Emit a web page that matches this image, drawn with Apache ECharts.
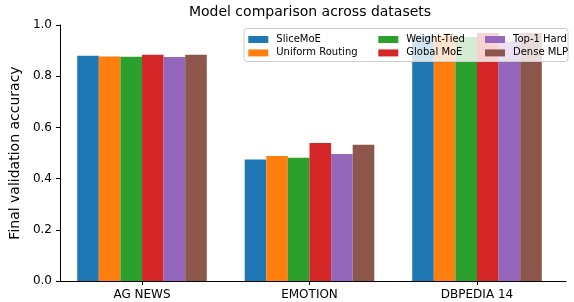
<!DOCTYPE html>
<html>
<head>
<meta charset="utf-8">
<script src="https://cdn.jsdelivr.net/npm/echarts@6/dist/echarts.min.js"></script>
<style>html,body{margin:0;padding:0;background:#fff}#c{width:574px;height:302px}</style>
</head>
<body>
<div id="c"></div>
<script>
var categories = ['AG NEWS', 'EMOTION', 'DBPEDIA 14'];
var seriesNames = ['SliceMoE', 'Uniform Routing', 'Weight-Tied', 'Global MoE', 'Top-1 Hard', 'Dense MLP'];
var sliceMoE = [0.880, 0.475, 0.958];
var uniformRouting = [0.877, 0.488, 0.958];
var weightTied = [0.876, 0.481, 0.953];
var globalMoE = [0.884, 0.539, 0.969];
var top1Hard = [0.875, 0.496, 0.935];
var denseMLP = [0.884, 0.532, 0.969];
var yTicks = [0.0, 0.2, 0.4, 0.6, 0.8, 1.0];

var values = [sliceMoE, uniformRouting, weightTied, globalMoE, top1Hard, denseMLP];
var colors = ['#1f77b4', '#ff7f0e', '#2ca02c', '#d62728', '#9467bd', '#8c564b'];
var FONT = 'DejaVu Sans';

var series = seriesNames.map(function (n, i) {
  return {
    name: n, type: 'bar', xAxisIndex: 1, yAxisIndex: 1,
    data: values[i], barWidth: 21.6, barGap: '0%',
    itemStyle: { color: colors[i] }, z: 2
  };
});

function legendAt(left, names) {
  return {
    orient: 'vertical', left: left, top: 33.5, padding: 0, itemWidth: 20, itemHeight: 7, itemGap: 1.4,
    icon: 'rect', data: names, z: 60, selectedMode: false,
    textStyle: { fontFamily: FONT, fontSize: 10, color: '#000', lineHeight: 12, padding: [0, 0, 0, 3] }
  };
}

var chart = echarts.init(document.getElementById('c'), null, { renderer: 'canvas' });
chart.setOption({
  animation: false,
  title: {
    text: 'Model comparison across datasets', left: 310, textAlign: 'center', top: 5.5, padding: 0,
    textStyle: { fontFamily: FONT, fontSize: 14, fontWeight: 'normal', color: '#000' }
  },
  grid: [
    { left: 54, right: 8, top: 25, bottom: 21 },
    { left: 58.25, right: 13.25, top: 25, bottom: 21 }
  ],
  xAxis: [
    { gridIndex: 0, type: 'value', min: 0, max: 1, axisLine: { show: true, lineStyle: { color: '#000', width: 1 } },
      axisTick: { show: false }, axisLabel: { show: false }, splitLine: { show: false } },
    { gridIndex: 1, type: 'category', data: categories, axisLine: { show: false },
      axisTick: { show: true, alignWithLabel: true, length: 4, lineStyle: { color: '#000' } },
      axisLabel: { fontFamily: FONT, fontSize: 12, color: '#000', margin: 8 } }
  ],
  yAxis: [
    { gridIndex: 0, type: 'value', min: 0, max: 1, interval: 0.2,
      name: 'Final validation accuracy', nameLocation: 'middle', nameGap: 31,
      nameTextStyle: { fontFamily: FONT, fontSize: 14, color: '#000' },
      axisLine: { show: true, lineStyle: { color: '#000', width: 1 } },
      axisTick: { show: true, length: 4, lineStyle: { color: '#000' } },
      axisLabel: { fontFamily: FONT, fontSize: 12, color: '#000', margin: 8,
        formatter: function (v) { return v.toFixed(1); } },
      splitLine: { show: false } },
    { gridIndex: 1, type: 'value', min: 0, max: 1, show: false, splitLine: { show: false } }
  ],
  legend: [
    legendAt(248.3, [seriesNames[0], seriesNames[1]]),
    legendAt(378.3, [seriesNames[2], seriesNames[3]]),
    legendAt(485, [seriesNames[4], seriesNames[5]])
  ],
  graphic: [{
    type: 'rect', z: 50, shape: { x: 244, y: 28.5, width: 324, height: 33, r: 3 },
    style: { fill: 'rgba(255,255,255,0.8)', stroke: '#cccccc', lineWidth: 1 }
  }],
  series: series
});
</script>
</body>
</html>
